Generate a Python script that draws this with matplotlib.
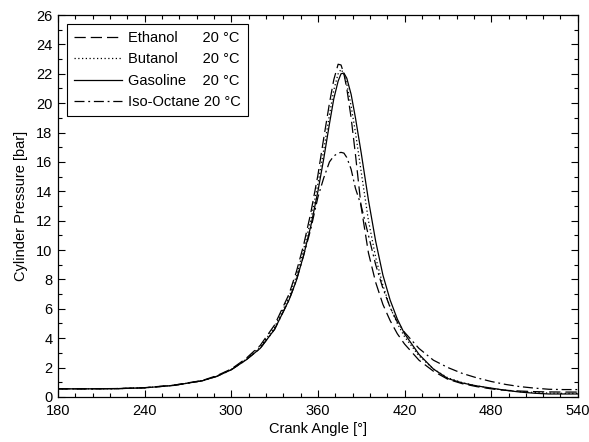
import matplotlib.pyplot as plt
from matplotlib.ticker import MultipleLocator

# crank angle [deg] shared by all traces
angle = [180, 200, 220, 240, 260, 280, 290, 300, 310, 320, 330, 340, 345, 350,
         355, 360, 364, 368, 371, 374, 376, 378, 380, 383, 386, 390, 395, 400,
         405, 410, 415, 420, 430, 440, 450, 460, 470, 480, 490, 500, 510, 520,
         530, 540]

# cylinder pressure [bar]
ethanol = [0.55, 0.55, 0.57, 0.63, 0.8, 1.12, 1.45, 1.9, 2.6, 3.5, 4.9, 7.0, 8.5,
           10.3, 12.5, 15.1, 17.6, 20.0, 21.6, 22.65, 22.6, 22.0, 21.0, 19.0,
           16.5, 12.9, 9.8, 7.8, 6.3, 5.2, 4.3, 3.6, 2.5, 1.75, 1.2, 0.9, 0.7,
           0.55, 0.45, 0.4, 0.36, 0.34, 0.33, 0.33]
butanol = [0.55, 0.55, 0.56, 0.62, 0.79, 1.1, 1.42, 1.87, 2.55, 3.4, 4.75, 6.8,
           8.2, 10.0, 12.0, 14.5, 16.8, 19.2, 20.9, 22.0, 22.3, 22.0, 21.3, 19.8,
           18.0, 15.3, 12.0, 9.5, 7.6, 6.1, 5.0, 4.1, 2.8, 1.9, 1.3, 0.97, 0.75,
           0.58, 0.45, 0.36, 0.3, 0.26, 0.24, 0.24]
gasoline = [0.55, 0.55, 0.56, 0.62, 0.78, 1.1, 1.4, 1.85, 2.5, 3.3, 4.6, 6.6, 7.9,
            9.6, 11.6, 14.0, 16.2, 18.6, 20.3, 21.5, 22.0, 22.05, 21.7, 20.6,
            19.0, 16.6, 13.4, 10.6, 8.3, 6.6, 5.3, 4.3, 2.9, 1.9, 1.25, 0.95,
            0.75, 0.6, 0.45, 0.33, 0.25, 0.2, 0.2, 0.2]
isooctane = [0.55, 0.55, 0.56, 0.62, 0.78, 1.1, 1.4, 1.85, 2.5, 3.3, 4.6, 6.6,
             7.9, 9.6, 11.4, 13.6, 14.9, 16.0, 16.4, 16.6, 16.65, 16.6, 16.3,
             15.5, 14.2, 13.0, 11.0, 9.0, 7.4, 6.1, 5.1, 4.4, 3.3, 2.5, 2.0, 1.6,
             1.3, 1.05, 0.85, 0.7, 0.6, 0.52, 0.5, 0.5]

fuels = ['Ethanol', 'Butanol', 'Gasoline', 'Iso-Octane']
pads = [6, 6, 4, 1]
temp = '20 °C'

plt.rcParams['font.family'] = ['Liberation Sans', 'DejaVu Sans']
plt.rcParams['font.size'] = 10.5

fig = plt.figure(figsize=(5.89, 4.42), dpi=100)
ax = fig.add_axes([0.0985, 0.102, 0.8825, 0.864])

series = [ethanol, butanol, gasoline, isooctane]
styles = [(0, (9, 4)), (0, (1, 2)), '-', (0, (8, 3, 1.5, 3))]
for name, pad, vals, ls in zip(fuels, pads, series, styles):
    ax.plot(angle, vals, color='black', linewidth=0.9, linestyle=ls,
            label=name + ' ' * pad + temp)

ax.set_xlim(180, 540)
ax.set_ylim(0, 26)
ax.xaxis.set_major_locator(MultipleLocator(60))
ax.xaxis.set_minor_locator(MultipleLocator(12))
ax.yaxis.set_major_locator(MultipleLocator(2))
ax.yaxis.set_minor_locator(MultipleLocator(1))
ax.tick_params(which='both', direction='in', top=True, right=True, width=0.8)
ax.tick_params(which='major', length=5)
ax.tick_params(which='minor', length=3)
ax.tick_params(axis='x', pad=5)
ax.tick_params(axis='y', pad=4)
for s in ax.spines.values():
    s.set_linewidth(0.9)

ax.set_xlabel('Crank Angle [°]', labelpad=3)
ax.set_ylabel('Cylinder Pressure [bar]', labelpad=6)

leg = ax.legend(loc='upper left', handlelength=3.3, handletextpad=0.4,
                labelspacing=0.5, borderpad=0.5, borderaxespad=0.6,
                fancybox=False, framealpha=1, edgecolor='black')
leg.get_frame().set_linewidth(0.8)

fig.savefig('out.png', dpi=100)
